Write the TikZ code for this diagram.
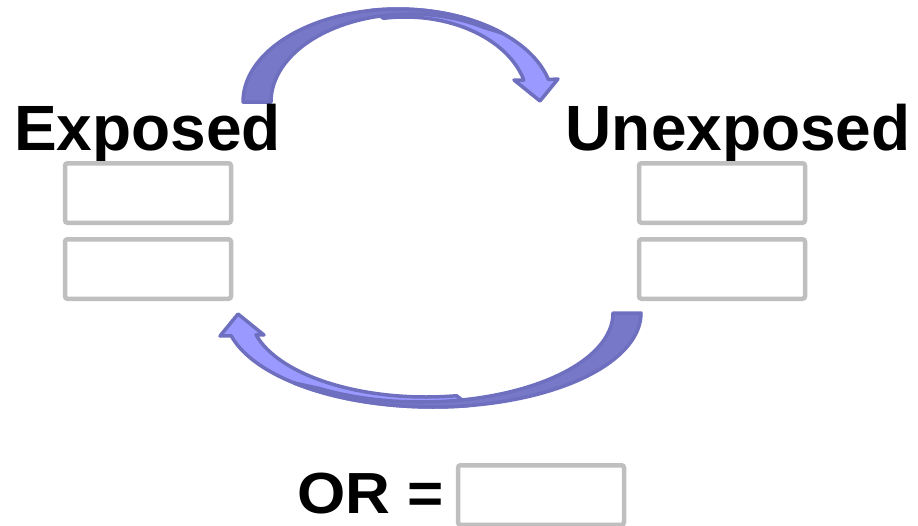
\documentclass[tikz,border=0pt]{standalone}
\usepackage{fontspec}
\setmainfont{Liberation Sans}

\definecolor{boxgray}{HTML}{BFBFBF}
\definecolor{arrowlight}{HTML}{9999FF}
\definecolor{arrowdark}{HTML}{7878C8}
\definecolor{arrowedge}{HTML}{6F6FBF}

% Curved ribbon arrow in a local frame (y up, centre of the outer arc at the origin).
% #1 = outer x radius, #2 = outer y radius, #3 = band depth at the crown
\newcommand{\ribbonarrow}[3]{%
  \pgfmathsetmacro{\ra}{#1}%
  \pgfmathsetmacro{\rb}{#2}%
  \pgfmathsetmacro{\rai}{#1-32}%
  \pgfmathsetmacro{\rbi}{#2-#3}%
  \pgfmathsetmacro{\rab}{#1-16}%
  \pgfmathsetmacro{\rbb}{#2-5}%
  % front part, ending in the head
  \filldraw[ribbonfront]
    plot[domain=100:14,samples=70,variable=\t] ({\ra*cos(\t)},{\rb*sin(\t)})
    -- ({\ra+5},23) -- ({\ra-13},1) -- ({\ra-39},22)
    -- plot[domain=15:100,samples=70,variable=\t] ({7+\rai*cos(\t)},{\rbi*sin(\t)})
    -- cycle;
  % back part, from the tail and tapering out along the outer edge
  \filldraw[ribbonback]
    plot[domain=180:48,samples=90,variable=\t] ({\ra*cos(\t)},{\rb*sin(\t)})
    -- plot[domain=58:180,samples=90,variable=\t] ({12+\rab*cos(\t)},{\rbb*sin(\t)})
    -- cycle;
}

\begin{document}
\begin{tikzpicture}[x=1pt,y=-1pt,
  title/.style={font=\fontsize{64}{72}\selectfont\bfseries, inner sep=0pt, anchor=base west},
  ortext/.style={font=\fontsize{58}{64}\selectfont\bfseries, inner sep=0pt, anchor=base west, xscale=1.07},
  blank/.style={draw=boxgray, line width=4.5pt, rounded corners=2.5pt,
                minimum width=166pt, minimum height=59.5pt, inner sep=0pt},
  ribbonfront/.style={fill=arrowlight, draw=arrowedge, line width=3.5pt, line join=round},
  ribbonback/.style={fill=arrowdark, draw=arrowedge, line width=3.5pt, line join=round}]

\useasboundingbox (0,0) rectangle (918,525);
\clip (0,0) rectangle (918,525);

% arrow from "Exposed" over to "Unexposed"
\begin{scope}[shift={(398,102)}, yscale=-1]
  \ribbonarrow{155}{93}{8}
\end{scope}

% arrow from "Unexposed" back under to "Exposed"
\begin{scope}[shift={(433,313)}, xscale=-1]
  \ribbonarrow{208}{94}{10}
\end{scope}

% headings
\node[title] (exposed) at (14,150) {Exposed};
\node[title] (unexposed) at (565.5,150) {Unexposed};

% answer boxes
\node[blank] (expA) at (148,193) {};
\node[blank] (expB) at (148,269) {};
\node[blank] (unexA) at (722,193) {};
\node[blank] (unexB) at (722,269) {};

% odds ratio line
\node[ortext] (ortxt) at (297,513) {OR =};
\node[blank] (orbox) at (541,495) {};
\end{tikzpicture}
\end{document}
